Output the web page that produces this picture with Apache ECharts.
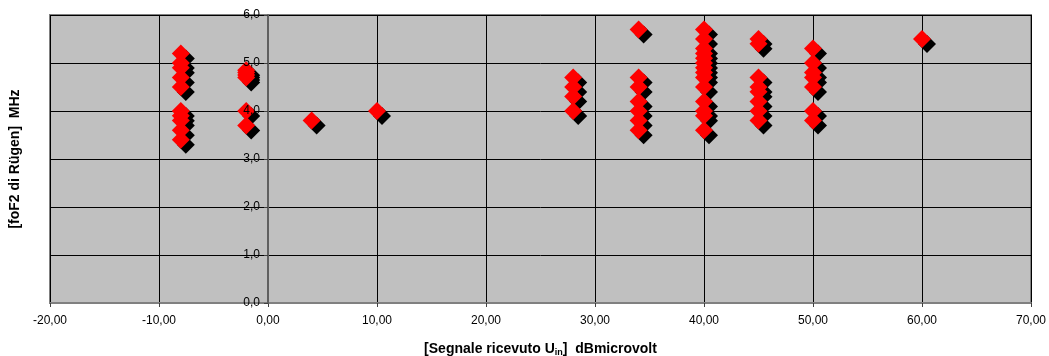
<!DOCTYPE html>
<html>
<head>
<meta charset="utf-8">
<script src="https://cdn.jsdelivr.net/npm/echarts@6/dist/echarts.min.js"></script>
<style>
html,body{margin:0;padding:0;background:#fff;}
#chart{width:1049px;height:356px;}
</style>
</head>
<body>
<div id="chart"></div>
<script>
// Signal received (dBmicrovolt) and foF2 of Rügen (MHz), paired
const signal = [
  -8,-8,-8,-8,-8,-8,-8,-8,-8,-8,
  -2,-2,-2,-2,-2,-2,
  4, 10,
  28,28,28,28,
  34,34,34,34,34,34,34,
  40,40,40,40,40,40,40,40,40,40,40,40,40,40,
  45,45,45,45,45,45,45,45,
  50,50,50,50,50,50,50,
  60
];
const foF2 = [
  5.2,5.0,4.9,4.7,4.5,4.0,3.9,3.8,3.6,3.4,
  4.85,4.8,4.75,4.7,4.0,3.7,
  3.8, 4.0,
  4.7,4.5,4.3,4.0,
  5.7,4.7,4.5,4.2,4.0,3.8,3.6,
  5.7,5.5,5.3,5.2,5.1,5.0,4.9,4.8,4.7,4.5,4.2,4.0,3.9,3.6,
  5.5,5.4,4.7,4.5,4.4,4.2,4.0,3.8,
  5.3,5.0,4.8,4.7,4.5,4.0,3.8,
  5.5
];
const xTicks = { min: -20, max: 70, step: 10 };
const yTicks = { min: 0, max: 6, step: 1 };
const xTitle = '[Segnale ricevuto U';
const xTitleSub = 'in';
const xTitleEnd = ']  dBmicrovolt';
const yTitle = '[foF2 di Rügen]  MHz';

const points = signal.map((s, i) => [s, foF2[i]]);
const fmt = (v, d) => v.toFixed(d).replace('.', ',');

const W = 1049, gridLeft = 50, gridRight = 18;
const gridW = W - gridLeft - gridRight;
// y axis crosses the x axis at value 0
const yAxisOffset = -gridW * (0 - xTicks.min) / (xTicks.max - xTicks.min);

const chart = echarts.init(document.getElementById('chart'), null, { renderer: 'canvas' });
chart.setOption({
  animation: false,
  backgroundColor: '#ffffff',
  textStyle: { fontFamily: 'Liberation Sans, Arial, sans-serif' },
  grid: {
    left: gridLeft, right: gridRight, top: 15, bottom: 53,
    containLabel: false, outerBoundsMode: 'none',
    show: true, backgroundColor: '#C0C0C0', borderColor: '#808080', borderWidth: 2
  },
  xAxis: {
    type: 'value',
    min: xTicks.min, max: xTicks.max, interval: xTicks.step,
    axisLine: { show: true, onZero: false, lineStyle: { color: '#808080', width: 2 } },
    axisTick: { show: true, inside: false, length: 4, lineStyle: { color: '#404040' } },
    axisLabel: { color: '#000', fontSize: 12, margin: 12, formatter: v => fmt(v, 2) },
    splitLine: { show: true, lineStyle: { color: '#000', width: 1 } },
    name: '{a|' + xTitle + '}{s|' + xTitleSub + '}{a|' + xTitleEnd + '}',
    nameLocation: 'middle', nameGap: 38,
    nameTextStyle: {
      rich: {
        a: { fontSize: 14, fontWeight: 'bold', color: '#000', fontFamily: 'Liberation Sans' },
        s: { fontSize: 9, fontWeight: 'bold', color: '#000', fontFamily: 'Liberation Sans', verticalAlign: 'bottom', padding: [7, 0, 0, 0] }
      }
    }
  },
  yAxis: [
    {
      type: 'value',
      min: yTicks.min, max: yTicks.max, interval: yTicks.step,
      axisLine: { show: false, onZero: false },
      axisTick: { show: false },
      axisLabel: { show: false },
      splitLine: { show: true, lineStyle: { color: '#000', width: 1 } },
      name: yTitle,
      nameLocation: 'middle', nameGap: 28, nameRotate: 90,
      nameTextStyle: { fontSize: 14, fontWeight: 'bold', color: '#000', fontFamily: 'Liberation Sans' }
    },
    {
      type: 'value', position: 'left',
      min: yTicks.min, max: yTicks.max, interval: yTicks.step,
      offset: yAxisOffset, z: 5,
      axisLine: { show: true, onZero: false, lineStyle: { color: '#606060', width: 2 } },
      axisTick: { show: true, inside: false, length: 4, lineStyle: { color: '#404040' } },
      axisLabel: { color: '#000', fontSize: 12, margin: 8, formatter: v => fmt(v, 1) },
      splitLine: { show: false }
    }
  ],
  series: [
    {
      type: 'scatter', data: points, symbol: 'diamond', symbolSize: 18,
      symbolOffset: [5, 5], silent: true, z: 2, yAxisIndex: 0,
      itemStyle: { color: '#000000', opacity: 1 }
    },
    {
      type: 'scatter', data: points, symbol: 'diamond', symbolSize: 18, z: 3, yAxisIndex: 0,
      itemStyle: { color: '#FF0000', opacity: 1 }
    }
  ]
});
</script>
</body>
</html>
